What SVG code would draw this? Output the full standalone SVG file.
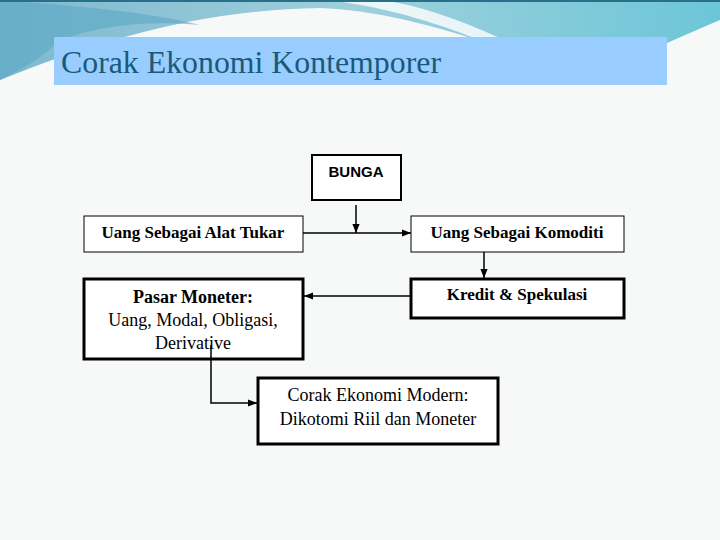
<svg xmlns="http://www.w3.org/2000/svg" width="720" height="540" viewBox="0 0 720 540">
<defs>
<linearGradient id="sky" x1="0" y1="0" x2="1" y2="0"><stop offset="0" stop-color="#7fb8cf"/><stop offset="0.5" stop-color="#9fd0dc"/><stop offset="1" stop-color="#6cc6d8"/></linearGradient>
<marker id="ah" viewBox="0 0 10 10" refX="10" refY="5" markerWidth="6" markerHeight="6" orient="auto"><path d="M0,1 L10,5 L0,9 z" fill="#000"/></marker>
<style>
.b{fill:#fff;stroke:#000}
.s{font-family:'Liberation Serif','Times New Roman',serif;font-size:17px;text-anchor:middle;fill:#000}
.bd{font-weight:bold}
.c{fill:none;stroke:#000;stroke-width:1.5;marker-end:url(#ah)}
</style>
</defs>
<rect width="720" height="540" fill="#f7f8f8"/>
<path d="M0,0 H720 V20 C650,50 600,75 560,70 C460,30 380,10 320,8 C200,10 100,40 0,80 Z" fill="url(#sky)"/>
<path d="M0,0 V80 C20,70 40,60 60,40 C100,25 150,20 200,25 C140,10 60,5 0,0 Z" fill="#5aa9c4" opacity="0.6"/>
<path d="M330,0 C400,10 440,25 480,40 L500,38 C460,20 420,5 380,0 Z" fill="#ffffff" opacity="0.8"/>
<rect x="0" y="0" width="720" height="2" fill="#2a6f8a"/>
<g id="title"><rect x="54" y="37" width="613" height="48" fill="#99ccff"/>
<text x="61" y="73" textLength="380" lengthAdjust="spacingAndGlyphs" style="font-family:'Liberation Serif',serif;font-size:31px" fill="#1a5a78">Corak Ekonomi Kontemporer</text></g>
<g id="bunga"><rect class="b" x="312" y="155" width="89" height="45" stroke-width="2"/><text x="356" y="177" style="font-family:'Liberation Sans',sans-serif;font-size:15px;font-weight:bold" text-anchor="middle">BUNGA</text></g>
<g id="alat"><rect class="b" x="84" y="216" width="219" height="36"/><text class="s bd" x="193" y="238">Uang Sebagai Alat Tukar</text></g>
<g id="komoditi"><rect class="b" x="411" y="216" width="213" height="36"/><text class="s bd" x="517" y="238">Uang Sebagai Komoditi</text></g>
<g id="kredit"><rect class="b" x="411" y="279" width="213" height="39" stroke-width="3"/><text class="s bd" x="517" y="300">Kredit &amp; Spekulasi</text></g>
<g id="pasar"><rect class="b" x="84" y="279" width="219" height="80" stroke-width="3"/><text class="s" x="193" y="303" style="font-size:18px"><tspan class="bd">Pasar Moneter:</tspan><tspan x="193" dy="23">Uang, Modal, Obligasi,</tspan><tspan x="193" dy="23">Derivative</tspan></text></g>
<g id="modern"><rect class="b" x="258" y="378" width="240" height="66" stroke-width="3"/><text class="s" x="378" y="401" style="font-size:18px">Corak Ekonomi Modern:<tspan x="378" dy="24">Dikotomi Riil dan Moneter</tspan></text></g>
<g id="connectors">
<path class="c" d="M356,205 V233"/>
<path class="c" d="M303,233 H411"/>
<path class="c" d="M484,252 V278"/>
<path class="c" d="M411,296 H304"/>
<path class="c" d="M211,345 V403 H257"/>
</g>
</svg>
